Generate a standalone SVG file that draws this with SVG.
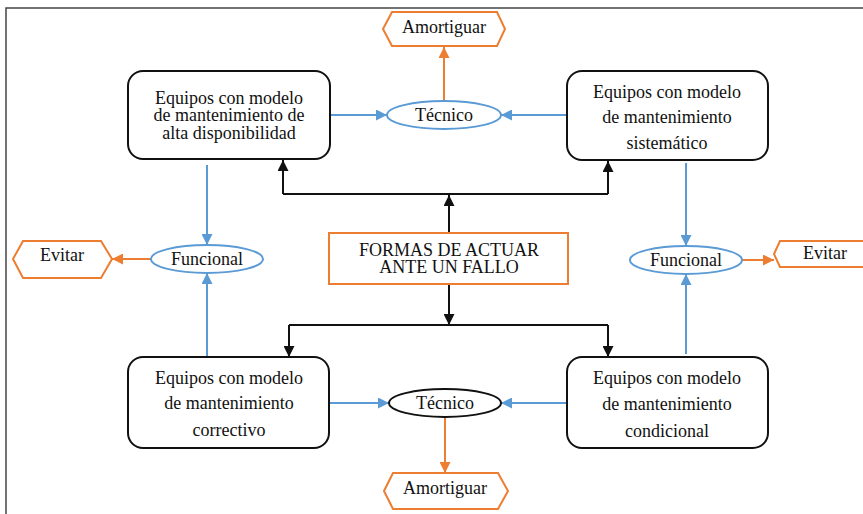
<svg xmlns="http://www.w3.org/2000/svg" width="863" height="514" viewBox="0 0 863 514">
<defs>
<style>
text{font-family:"Liberation Serif","Times New Roman",serif;font-size:18px;fill:#111;text-anchor:middle}
.box{fill:#fff;stroke:#111;stroke-width:2}
.cbox{fill:#fff;stroke:#ED7D31;stroke-width:2}
.hex{fill:#fff;stroke:#ED7D31;stroke-width:2}
.ell{fill:#fff;stroke:#5B9BD5;stroke-width:2}
.ellk{fill:#fff;stroke:#111;stroke-width:2}
.k{fill:none;stroke:#111;stroke-width:2}
.b{fill:none;stroke:#5B9BD5;stroke-width:2}
.o{fill:none;stroke:#ED7D31;stroke-width:2}
</style>
<marker id="ak" viewBox="0 0 10 10" refX="10" refY="5" markerWidth="11" markerHeight="11" markerUnits="userSpaceOnUse" orient="auto"><path d="M0,0 L10,5 L0,10 z" fill="#111"/></marker>
<marker id="ab" viewBox="0 0 10 10" refX="10" refY="5" markerWidth="11" markerHeight="11" markerUnits="userSpaceOnUse" orient="auto"><path d="M0,0 L10,5 L0,10 z" fill="#5B9BD5"/></marker>
<marker id="ao" viewBox="0 0 10 10" refX="10" refY="5" markerWidth="11" markerHeight="11" markerUnits="userSpaceOnUse" orient="auto"><path d="M0,0 L10,5 L0,10 z" fill="#ED7D31"/></marker>
</defs>
<rect width="863" height="514" fill="#fff"/>
<path d="M6,514 V8 H863" fill="none" stroke="#444" stroke-width="1.5"/>

<g id="connectors">
<path class="k" d="M449,233 V195" marker-end="url(#ak)"/>
<path class="k" d="M283,194 H608"/>
<path class="k" d="M283,194 V160" marker-end="url(#ak)"/>
<path class="k" d="M608,194 V161" marker-end="url(#ak)"/>
<path class="k" d="M449,284 V325" marker-end="url(#ak)"/>
<path class="k" d="M289,325 H608"/>
<path class="k" d="M289,325 V357" marker-end="url(#ak)"/>
<path class="k" d="M608,325 V357" marker-end="url(#ak)"/>
<path class="b" d="M330,115 H387" marker-end="url(#ab)"/>
<path class="b" d="M567,115 H501" marker-end="url(#ab)"/>
<path class="b" d="M330,403 H389" marker-end="url(#ab)"/>
<path class="b" d="M567,403 H501" marker-end="url(#ab)"/>
<path class="b" d="M207,165 V245" marker-end="url(#ab)"/>
<path class="b" d="M207,357 V273" marker-end="url(#ab)"/>
<path class="b" d="M686,163 V246" marker-end="url(#ab)"/>
<path class="b" d="M686,354 V274" marker-end="url(#ab)"/>
<path class="o" d="M444,101 V47" marker-end="url(#ao)"/>
<path class="o" d="M445,417 V473" marker-end="url(#ao)"/>
<path class="o" d="M151,259 H112" marker-end="url(#ao)"/>
<path class="o" d="M742,260 H774" marker-end="url(#ao)"/>
</g>

<g id="amortiguar-top">
<polygon class="hex" points="383,29 392,12 497,12 505,29 497,46 392,46"/>
<text x="444" y="33">Amortiguar</text>
</g>
<g id="box-alta">
<rect class="box" x="128" y="71" width="202" height="88" rx="15"/>
<text x="229" y="104">Equipos con modelo</text>
<text x="229" y="121">de mantenimiento de</text>
<text x="229" y="139">alta disponibilidad</text>
</g>
<g id="box-sistematico">
<rect class="box" x="567" y="71" width="201" height="89" rx="15"/>
<text x="667" y="98">Equipos con modelo</text>
<text x="667" y="123">de mantenimiento</text>
<text x="667" y="149">sistemático</text>
</g>
<g id="tecnico-top">
<ellipse class="ell" cx="444" cy="115" rx="57" ry="14"/>
<text x="444" y="121">Técnico</text>
</g>
<g id="funcional-left">
<ellipse class="ell" cx="207" cy="259" rx="56" ry="14"/>
<text x="207" y="265">Funcional</text>
</g>
<g id="evitar-left">
<polygon class="hex" points="13,259 23,241 101,241 112,259 101,278 23,278"/>
<text x="62" y="261">Evitar</text>
</g>
<g id="formas">
<rect class="cbox" x="329" y="233" width="239" height="51"/>
<text x="449" y="256">FORMAS DE ACTUAR</text>
<text x="449" y="273">ANTE UN FALLO</text>
</g>
<g id="funcional-right">
<ellipse class="ell" cx="686" cy="260" rx="56" ry="14"/>
<text x="686" y="266">Funcional</text>
</g>
<g id="evitar-right">
<polygon class="hex" points="774,254 780,241 870,241 870,267 780,267"/>
<text x="825" y="259">Evitar</text>
</g>
<g id="box-correctivo">
<rect class="box" x="128" y="357" width="201" height="91" rx="15"/>
<text x="229" y="384">Equipos con modelo</text>
<text x="229" y="409">de mantenimiento</text>
<text x="229" y="436">correctivo</text>
</g>
<g id="box-condicional">
<rect class="box" x="567" y="357" width="201" height="91" rx="15"/>
<text x="667" y="384">Equipos con modelo</text>
<text x="667" y="410">de mantenimiento</text>
<text x="667" y="437">condicional</text>
</g>
<g id="tecnico-bottom">
<ellipse class="ellk" cx="445" cy="403" rx="56" ry="14"/>
<text x="445" y="409">Técnico</text>
</g>
<g id="amortiguar-bottom">
<polygon class="hex" points="384,491 393,473 498,473 508,491 498,509 393,509"/>
<text x="445" y="494">Amortiguar</text>
</g>
</svg>
